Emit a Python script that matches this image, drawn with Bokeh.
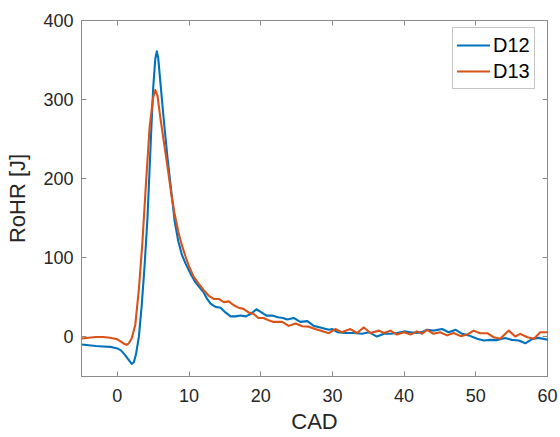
from bokeh.plotting import figure
from bokeh.models import (ColumnDataSource, FixedTicker, LinearAxis, Range1d,
                          Legend, LegendItem)
from bokeh.embed import file_html
from bokeh.resources import INLINE

# Rate of heat release per crank angle degree, two test runs
cad_d12 = [-5, -4, -3, -2, -1, 0, 0.5, 1.0, 1.5, 2.0, 2.3, 2.6, 3.0, 3.4, 3.8,
           4.2, 4.7, 5.0, 5.3, 5.5, 5.7, 6.0, 6.5, 7.0, 7.5, 8.0, 8.5, 9.0,
           9.5, 10.2, 10.9, 11.6, 12.06, 12.53, 13.0, 13.7, 14.4, 15.08, 15.8,
           16.5, 17.2, 17.9, 18.6, 19.4, 20.1, 20.8, 21.6, 22.4, 23.1, 23.7,
           24.6, 25.5, 26.5, 27.4, 28.3, 29.5, 30.0, 30.7, 31.8, 33.0, 34.1,
           35.1, 36.2, 37.2, 38.1, 39.0, 40.0, 40.9, 41.8, 42.7, 43.2, 44.1,
           45.3, 46.2, 47.2, 48.1, 49.0, 50.2, 51.1, 52.0, 53.0, 54.1, 55.0,
           56.0, 56.9, 57.9, 58.8, 60.0]
rohr_d12 = [-9.5, -10.5, -11.5, -12, -12.5, -14.5, -17, -22, -28, -34, -32,
            -22, 0, 40, 90, 150, 255, 315, 352, 361, 353, 322, 272, 226, 186,
            146, 121, 104, 93, 80, 69, 61, 56, 48, 42, 38, 37, 31, 26, 26, 27,
            26, 29, 35, 31, 27, 27, 25, 24, 22, 24, 19, 20, 14, 12, 9, 10, 6,
            5, 5, 4, 6, 0.5, 4, 4, 5, 7, 6, 5, 7, 9, 8, 10, 6, 9, 4, 2, -2.4,
            -4.5, -3.7, -4, -1.2, -3.7, -4.5, -8, -2.4, -1.2, -3.5]

cad_d13 = [-5, -4, -3, -2, -1, 0, 0.5, 1.0, 1.3, 1.6, 2.0, 2.5, 3.0, 3.5, 4.0,
           4.5, 5.0, 5.3, 5.6, 6.0, 6.5, 7.0, 7.5, 8.0, 8.5, 9.0, 9.5, 10.0,
           10.66, 11.36, 12.06, 12.76, 13.45, 14.15, 14.85, 15.54, 16.24,
           16.9, 17.6, 18.3, 19.0, 19.7, 20.4, 21.1, 21.8, 23.0, 23.9, 24.85,
           25.8, 26.7, 27.6, 28.3, 29.5, 30.4, 31.3, 32.5, 33.4, 34.4, 35.3,
           36.5, 37.2, 38.1, 39.0, 40.0, 40.9, 41.8, 42.5, 43.2, 44.1, 45.0,
           46.0, 46.9, 47.9, 48.8, 49.7, 50.6, 51.6, 52.5, 53.4, 54.6, 55.5,
           56.2, 57.2, 58.1, 59.0, 60.0]
rohr_d13 = [-2, -1, 0, 0, -1, -3, -6, -9, -10, -8, -2, 15, 60, 120, 195, 265,
            303, 312, 305, 277, 246, 215, 182, 155, 133, 116, 102, 89, 76, 67,
            59, 52, 48, 48, 44, 45, 40, 37, 35.5, 31, 29, 24, 24, 21, 19, 19,
            14, 17, 13.5, 13, 10, 8, 4.7, 10, 6, 10, 5, 12, 5, 8, 5, 8, 3, 6,
            3, 7, 4, 9, 4, 6, 2, 5, 1, 3, 8, 4.7, 4.7, -0.4, -2.4, 8, 0.5,
            3.9, -0.4, -2.4, 6, 6]

x_ticks = [0, 10, 20, 30, 40, 50, 60]
y_ticks = [0, 100, 200, 300, 400]

BLUE = "#0072BD"
ORANGE = "#D95319"
AXIS_GRAY = "#8a8a8a"
TEXT = "#262626"
FONT = "Liberation Sans"

p = figure(width=560, height=437, output_backend="svg", toolbar_location=None,
           x_range=Range1d(-5, 60), y_range=Range1d(-50, 400),
           min_border_left=81, min_border_right=13, min_border_top=20,
           min_border_bottom=61)
p.background_fill_color = "white"
p.border_fill_color = "white"
p.grid.visible = False
p.outline_line_color = AXIS_GRAY
p.outline_line_width = 1

src12 = ColumnDataSource(dict(x=cad_d12, y=rohr_d12))
src13 = ColumnDataSource(dict(x=cad_d13, y=rohr_d13))
r12 = p.line("x", "y", source=src12, line_color=BLUE, line_width=2.1,
             line_join="round", line_cap="round")
r13 = p.line("x", "y", source=src13, line_color=ORANGE, line_width=2.1,
             line_join="round", line_cap="round")


def style_axis(ax, ticks, show_labels=True):
    ax.ticker = FixedTicker(ticks=ticks)
    ax.axis_line_color = AXIS_GRAY
    ax.major_tick_line_color = AXIS_GRAY
    ax.minor_tick_line_color = None
    ax.major_tick_in = 5
    ax.major_tick_out = 0
    ax.major_label_text_font = FONT
    ax.major_label_text_font_size = "18px"
    ax.major_label_text_color = TEXT
    if not show_labels:
        ax.major_label_text_font_size = "0px"
        ax.major_label_text_color = None
        ax.axis_line_color = None


xa = p.xaxis[0]
ya = p.yaxis[0]
style_axis(xa, x_ticks)
style_axis(ya, y_ticks)
xa.major_label_standoff = 12
ya.major_label_standoff = 8
xa.axis_label = "CAD"
ya.axis_label = "RoHR [J]"
for ax in (xa, ya):
    ax.axis_label_text_font = FONT
    ax.axis_label_text_font_size = "22px"
    ax.axis_label_text_font_style = "normal"
    ax.axis_label_text_color = TEXT
xa.axis_label_standoff = 4
ya.axis_label_standoff = 10

top = LinearAxis()
style_axis(top, x_ticks, show_labels=False)
p.add_layout(top, "above")
right = LinearAxis()
style_axis(right, y_ticks, show_labels=False)
p.add_layout(right, "right")

legend = Legend(items=[LegendItem(label="D12", renderers=[r12]),
                       LegendItem(label="D13", renderers=[r13])],
                location=(371, 287))
legend.label_text_font = FONT
legend.label_text_font_size = "20px"
legend.label_text_color = "black"
legend.border_line_color = AXIS_GRAY
legend.border_line_width = 1
legend.background_fill_color = "white"
legend.background_fill_alpha = 1
legend.glyph_width = 33
legend.glyph_height = 26
legend.label_height = 26
legend.label_standoff = 3
legend.padding = 4
legend.spacing = 0
legend.margin = 0
p.add_layout(legend, "center")

open("out.html", "w").write(file_html(p, INLINE))
